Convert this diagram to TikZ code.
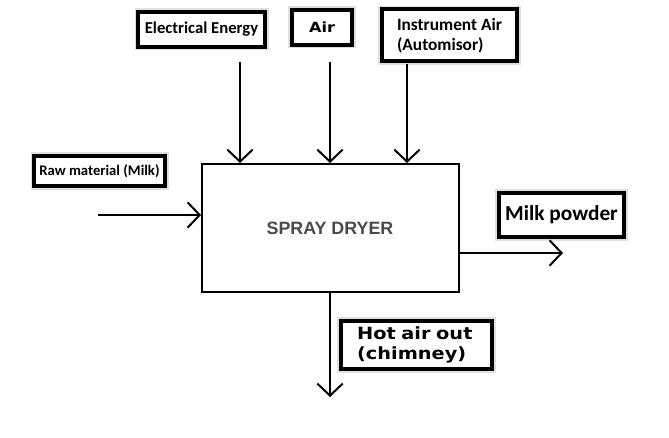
\documentclass[tikz,border=0pt]{standalone}
\usepackage{fontspec}
\setmainfont{Carlito}
\newfontfamily\dvs[FakeStretch=1.15]{DejaVu Sans}
\newfontfamily\lib{Liberation Sans}
\usetikzlibrary{arrows.meta}
\definecolor{drygray}{HTML}{4A4A4A}
\tikzset{
  lbl/.style={draw=black, line width=3pt, fill=white, inner sep=0pt,
    preaction={draw=black!12, line width=5.5pt}},
  arr/.style={line width=1.5pt, -{Straight Barb[length=9pt,width=19pt,line width=1.5pt]}},
  mainbox/.style={draw=black, line width=1.5pt, inner sep=0pt}
}
\begin{document}
\begin{tikzpicture}[x=0.75pt,y=-0.75pt]
\useasboundingbox[fill=white] (0,0) rectangle (669,438);
% main box
\node[mainbox, minimum width=192.75pt, minimum height=96pt] (dryer) at (330.5,228) {};
\node[text=drygray, font=\lib\bfseries\fontsize{13.4}{15}\selectfont] (dlabel) at (330,228) {SPRAY DRYER};
% label boxes
\node[lbl, minimum width=95pt, minimum height=26pt, font=\bfseries\fontsize{12.5}{14}\selectfont] (elec) at (201.5,29.5) {Electrical Energy};
\node[lbl, minimum width=45pt, minimum height=26pt, font=\dvs\bfseries\fontsize{10.5}{12}\selectfont] (air) at (322,27.5) {Air};
\node[lbl, minimum width=101.25pt, minimum height=39pt, font=\bfseries\fontsize{13}{15}\selectfont, align=left] (inst) at (449.5,35.5) {Instrument Air\\(Automisor)};
\node[lbl, minimum width=98pt, minimum height=22.5pt, font=\bfseries\fontsize{11}{13}\selectfont] (raw) at (99.5,171) {Raw material (Milk)};
\node[lbl, minimum width=94pt, minimum height=33pt, font=\bfseries\fontsize{16}{18}\selectfont] (milk) at (561.5,215) {Milk powder};
\node[lbl, minimum width=113.25pt, minimum height=36pt, font=\dvs\bfseries\fontsize{12.6}{15}\selectfont, align=left, text width=89pt] (hot) at (416.5,345) {Hot air out\\(chimney)};
% arrow end points
\coordinate (e1) at (240,62);
\coordinate (a1) at (330,62);
\coordinate (i1) at (407,64);
\coordinate (r1) at (98,215);
\coordinate (m1) at (563,253);
\coordinate (h1) at (330,397);
\draw[arr] (e1) -- (e1 |- dryer.north);
\draw[arr] (a1) -- (a1 |- dryer.north);
\draw[arr] (i1) -- (i1 |- dryer.north);
\draw[arr] (r1) -- (r1 -| dryer.west);
\draw[arr] (m1 -| dryer.east) -- (m1);
\draw[arr] (h1 |- dryer.south) -- (h1);
\end{tikzpicture}
\end{document}
